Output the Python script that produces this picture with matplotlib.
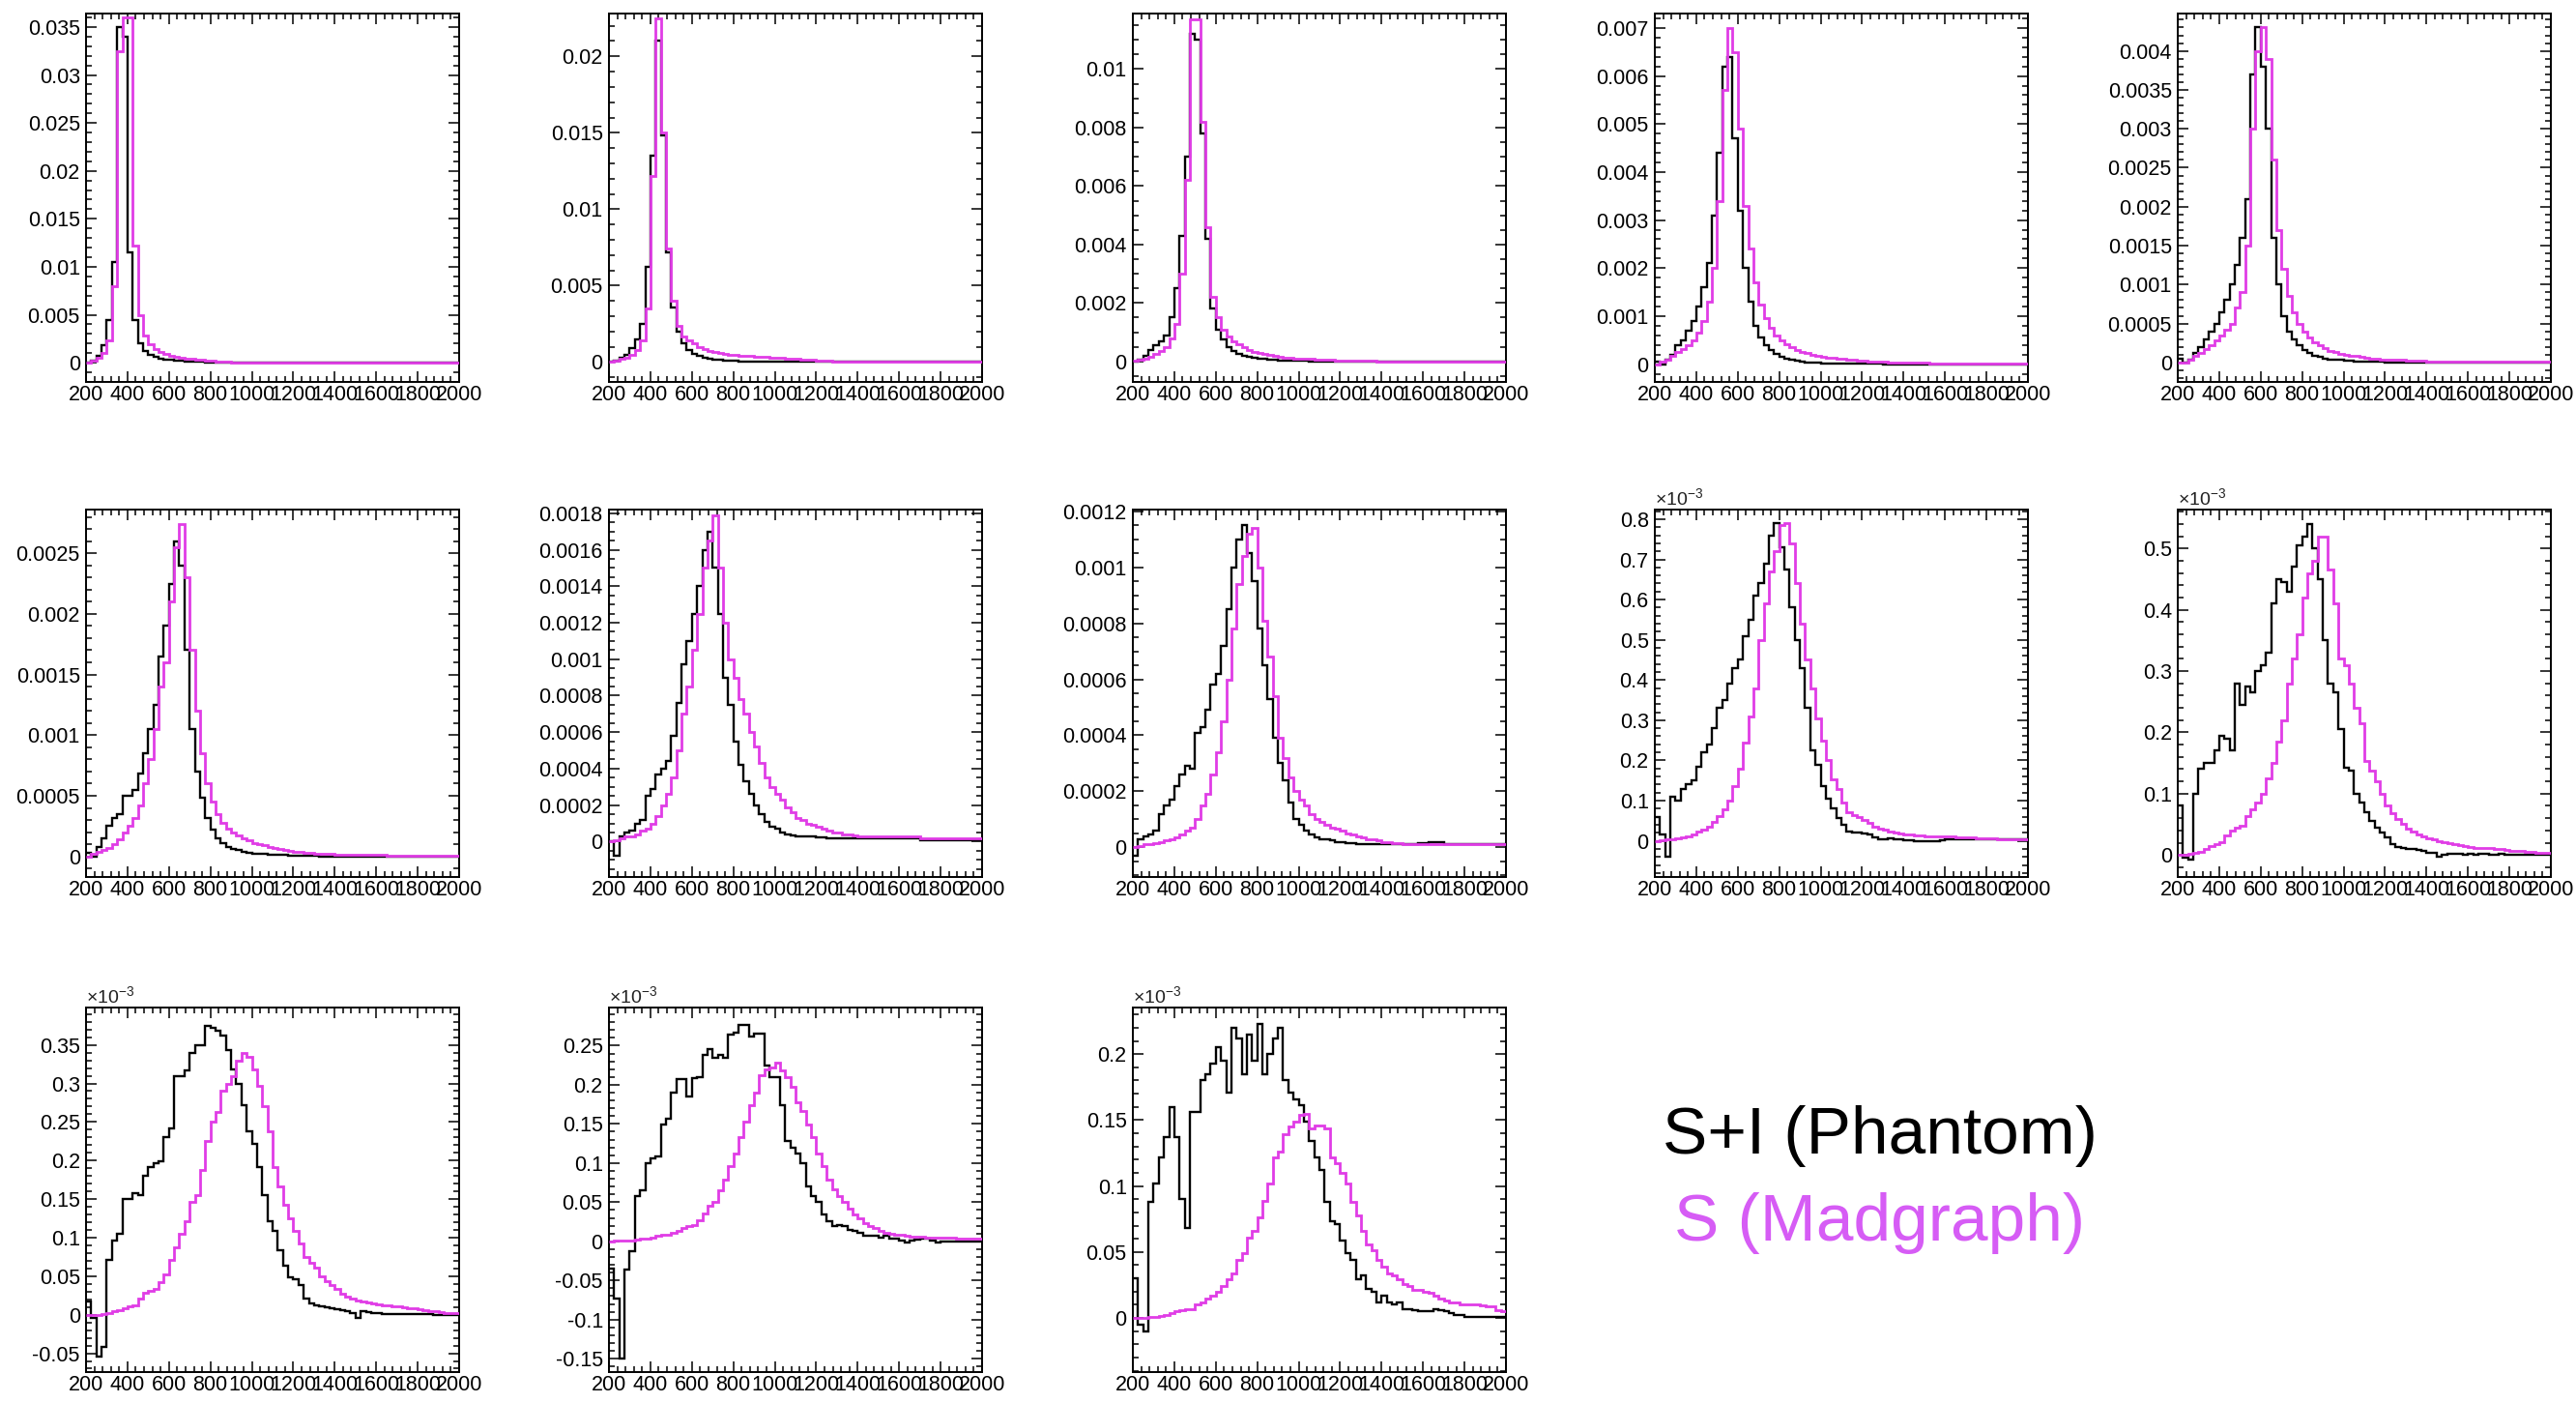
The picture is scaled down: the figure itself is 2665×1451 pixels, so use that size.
import numpy as np
import matplotlib
matplotlib.use("Agg")
import matplotlib.pyplot as plt
from matplotlib.ticker import MultipleLocator, AutoMinorLocator, FuncFormatter

plt.rcParams['font.family'] = ['Liberation Sans', 'DejaVu Sans']
plt.rcParams['mathtext.fontset'] = 'custom'
plt.rcParams['mathtext.rm'] = 'Liberation Sans'
plt.rcParams['mathtext.it'] = 'Liberation Sans:italic'

# ---------------- data: bin edges (GeV) and bin contents ----------------
bin_edges = list(range(200, 2001, 25))          # 72 bins of 25
x_tick_values = [200, 400, 600, 800, 1000, 1200, 1400, 1600, 1800, 2000]

series_labels = ["S+I (Phantom)", "S (Madgraph)"]

# panels 1-8: values in units of 1e-4
p1_si = [0.5, 2, 7, 18, 45, 105, 350, 340, 115, 45, 20, 12,
         8, 6, 4.5, 3.5, 2.8, 2.2, 1.8, 1.4, 1.1, 0.9, 0.7, 0.5,
         0.4, 0.3, 0.2, 0.2, 0.1, 0.1, 0, 0, 0, 0, 0, 0,
         0, 0, 0, 0, 0, 0, 0, 0, 0, 0, 0, 0,
         0, 0, 0, 0, 0, 0, 0, 0, 0, 0, 0, 0,
         0, 0, 0, 0, 0, 0, 0, 0, 0, 0, 0, 0]
p1_s = [0.5, 2, 5, 10, 23, 80, 325, 360, 360, 122, 50, 28,
        19, 14, 11, 9, 7, 6, 5, 4.3, 3.7, 3.2, 2.7, 2.3,
        1.9, 1.5, 1.1, 0.8, 0.5, 0.3, 0.2, 0.1, 0, 0, 0, 0,
        0, 0, 0, 0, 0, 0, 0, 0, 0, 0, 0, 0,
        0, 0, 0, 0, 0, 0, 0, 0, 0, 0, 0, 0,
        0, 0, 0, 0, 0, 0, 0, 0, 0, 0, 0, 0]

p2_si = [0, 1, 3, 5, 9, 15, 25, 62, 135, 210, 148, 72,
         36, 20, 12, 8, 5.5, 4, 3, 2.3, 1.8, 1.4, 1.1, 0.9,
         0.7, 0.5, 0.4, 0.3, 0.2, 0.15, 0.1, 0.1, 0, 0, 0, 0,
         0, 0, 0, 0, 0, 0, 0, 0, 0, 0, 0, 0,
         0, 0, 0, 0, 0, 0, 0, 0, 0, 0, 0, 0,
         0, 0, 0, 0, 0, 0, 0, 0, 0, 0, 0, 0]
p2_s = [0.5, 1, 2, 3, 5, 8, 14, 35, 122, 225, 150, 74,
        40, 24, 17, 14, 12, 10, 8.5, 7.5, 6.5, 6, 5.5, 5,
        4.6, 4.3, 4, 3.8, 3.6, 3.4, 3.2, 3, 2.8, 2.6, 2.4, 2.2,
        2, 1.8, 1.6, 1.4, 1.2, 1, 0.8, 0.5, 0.3, 0.2, 0.1, 0,
        0, 0, 0, 0, 0, 0, 0, 0, 0, 0, 0, 0,
        0, 0, 0, 0, 0, 0, 0, 0, 0, 0, 0, 0]

p3_si = [0, 0.5, 2, 4, 5.5, 7, 9, 15, 25, 43, 70, 112,
         110, 78, 42, 18, 11, 7.5, 5, 3.5, 2.5, 2, 1.5, 1.2,
         1, 0.8, 0.6, 0.5, 0.4, 0.3, 0.3, 0.2, 0.2, 0.2, 0.1, 0.1,
         0, 0, 0, 0, 0, 0, 0, 0, 0, 0, 0, 0,
         0, 0, 0, 0, 0, 0, 0, 0, 0, 0, 0, 0,
         0, 0, 0, 0, 0, 0, 0, 0, 0, 0, 0, 0]
p3_s = [0.2, 0.5, 1, 1.5, 2.5, 3.5, 5, 8, 13, 30, 62, 117,
        117, 82, 46, 22, 15, 11, 8.5, 7, 5.8, 4.8, 4, 3.4,
        2.9, 2.5, 2.1, 1.8, 1.6, 1.4, 1.2, 1.1, 1, 0.9, 0.8, 0.7,
        0.6, 0.5, 0.5, 0.4, 0.4, 0.3, 0.3, 0.3, 0.2, 0.2, 0.2, 0.1,
        0.1, 0.1, 0.1, 0.1, 0.1, 0, 0, 0, 0, 0, 0, 0,
        0, 0, 0, 0, 0, 0, 0, 0, 0, 0, 0, 0]

p4_si = [0.5, 0, 1, 2, 4, 5, 7, 9, 12, 16, 21, 31,
         44, 62, 64, 47, 32, 20, 13, 8, 5.5, 4, 3, 2.2,
         1.6, 1.2, 0.9, 0.7, 0.5, 0.4, 0.3, 0.3, 0.2, 0.2, 0.2, 0.1,
         0.1, 0.1, 0.1, 0.1, 0.1, 0.1, 0.1, 0.1, 0, 0, 0, 0,
         0, 0, 0, 0, 0, 0, 0, 0, 0, 0, 0, 0,
         0, 0, 0, 0, 0, 0, 0, 0, 0, 0, 0, 0]
p4_s = [0, 0.5, 1, 1.8, 2.5, 3.2, 4, 5, 6.5, 9, 13, 20,
        34, 57, 70, 65, 49, 33, 24, 17, 12.5, 9.5, 7.5, 6,
        5, 4.2, 3.5, 3, 2.6, 2.3, 2, 1.8, 1.6, 1.4, 1.3, 1.2,
        1.1, 1, 0.9, 0.8, 0.7, 0.6, 0.6, 0.5, 0.5, 0.4, 0.4, 0.4,
        0.3, 0.3, 0.3, 0.3, 0.3, 0.2, 0.2, 0.2, 0.2, 0.2, 0.2, 0.2,
        0.2, 0.2, 0.2, 0.2, 0.2, 0.1, 0.1, 0.1, 0.1, 0.1, 0.1, 0.1]

p5_si = [0.5, 0, 0.3, 1.2, 2, 3, 4, 5, 6.5, 8, 10, 12.5,
         16, 21, 37, 43, 38, 30, 16, 10, 6, 4, 3, 2.2,
         1.6, 1.2, 0.9, 0.7, 0.5, 0.4, 0.3, 0.3, 0.2, 0.2, 0.1, 0.1,
         0.1, 0.1, 0.1, 0.1, 0, 0, 0, 0, 0, 0, 0, 0,
         0, 0, 0, 0, 0, 0, 0, 0, 0, 0, 0, 0,
         0, 0, 0, 0, 0, 0, 0, 0, 0, 0, 0, 0]
p5_s = [0, 0, 0.3, 0.8, 1.2, 1.7, 2.2, 2.8, 3.5, 4.2, 5, 7,
        9, 15, 30, 40, 43, 39, 26, 17, 12, 8.5, 6.5, 5,
        4, 3.2, 2.6, 2.2, 1.8, 1.5, 1.3, 1.1, 1, 0.9, 0.8, 0.7,
        0.6, 0.5, 0.5, 0.4, 0.4, 0.3, 0.3, 0.3, 0.2, 0.2, 0.2, 0.2,
        0.1, 0.1, 0.1, 0.1, 0.1, 0.1, 0.1, 0.1, 0.1, 0.1, 0.1, 0.1,
        0.1, 0.1, 0.1, 0.1, 0.1, 0.1, 0.1, 0.1, 0.1, 0.1, 0.1, 0.1]

p6_si = [0.3, 0, 0.8, 1.5, 2.5, 3.2, 3.5, 5, 5, 5.5, 6.8, 8.5,
         10.5, 12.5, 16.5, 19, 22.5, 26, 24, 17, 10.5, 7, 4.8, 3.2,
         2.2, 1.5, 1.1, 0.8, 0.6, 0.5, 0.4, 0.3, 0.25, 0.2, 0.2, 0.15,
         0.1, 0.1, 0.1, 0.05, 0.05, 0.05, 0.05, 0.05, 0.05, 0, 0, 0,
         0, 0, 0, 0, 0, 0, 0, 0, 0, 0, 0, 0,
         0, 0, 0, 0, 0, 0, 0, 0, 0, 0, 0, 0]
p6_s = [0, 0.2, 0.4, 0.5, 0.7, 1.0, 1.4, 2, 2.5, 3.2, 4.2, 6,
        8, 10.5, 14, 16, 21, 25.5, 27.4, 23, 17, 12, 8.5, 6,
        4.5, 3.5, 2.8, 2.3, 2, 1.7, 1.5, 1.3, 1.1, 1, 0.9, 0.8,
        0.7, 0.6, 0.5, 0.45, 0.4, 0.35, 0.3, 0.3, 0.25, 0.2, 0.2, 0.2,
        0.15, 0.15, 0.1, 0.1, 0.1, 0.1, 0.1, 0.1, 0.1, 0.1, 0.05, 0.05,
        0.05, 0.05, 0.05, 0.05, 0.05, 0.05, 0.05, 0.05, 0.05, 0.05, 0.05, 0.05]

p7_si = [0, -0.8, 0.3, 0.5, 0.6, 1, 1.2, 2.5, 2.9, 3.7, 4, 4.4,
         5.8, 7.6, 9.7, 11, 12.5, 14, 16, 17, 15, 12.5, 9, 7.5,
         5.5, 4.2, 3.3, 2.6, 2, 1.5, 1.1, 0.8, 0.7, 0.5, 0.4, 0.35,
         0.3, 0.3, 0.3, 0.3, 0.25, 0.25, 0.2, 0.2, 0.2, 0.2, 0.2, 0.2,
         0.2, 0.2, 0.2, 0.2, 0.2, 0.2, 0.2, 0.2, 0.2, 0.2, 0.2, 0.2,
         0.1, 0.1, 0.1, 0.1, 0.1, 0.1, 0.1, 0.1, 0.1, 0.1, 0.1, 0.1]
p7_s = [0, 0.1, 0.2, 0.3, 0.3, 0.4, 0.6, 0.7, 1, 1.4, 2, 2.6,
        3.5, 5, 7, 8.5, 10.5, 12.5, 15, 16.5, 17.9, 15, 12, 10,
        9, 7.8, 7, 6, 5.2, 4.3, 3.5, 3, 2.6, 2.3, 1.9, 1.6,
        1.3, 1.2, 1, 0.9, 0.8, 0.7, 0.6, 0.5, 0.5, 0.4, 0.4, 0.35,
        0.3, 0.3, 0.3, 0.3, 0.3, 0.3, 0.3, 0.3, 0.3, 0.3, 0.3, 0.3,
        0.2, 0.2, 0.2, 0.2, 0.2, 0.2, 0.2, 0.2, 0.2, 0.2, 0.2, 0.2]

p8_si = [-0.3, 0.3, 0.4, 0.45, 0.6, 1.2, 1.5, 1.7, 2.2, 2.6, 2.9, 2.8,
         4.1, 4.3, 4.9, 5.8, 6.2, 7.2, 8.5, 10, 11, 11.5, 10.5, 9.5,
         7.8, 6.5, 5.3, 3.9, 3, 2.4, 1.6, 1, 0.8, 0.6, 0.45, 0.35,
         0.3, 0.3, 0.25, 0.2, 0.2, 0.15, 0.15, 0.1, 0.1, 0.1, 0.1, 0.1,
         0.1, 0.1, 0.1, 0.1, 0.1, 0.1, 0.1, 0.15, 0.15, 0.2, 0.2, 0.2,
         0.1, 0.1, 0.1, 0.1, 0.1, 0.1, 0.1, 0.1, 0.1, 0.1, 0.1, 0.1]
p8_s = [0, 0.05, 0.1, 0.1, 0.15, 0.2, 0.25, 0.3, 0.35, 0.45, 0.6, 0.7,
        1, 1.5, 1.9, 2.6, 3.4, 4.5, 6, 7.8, 9.4, 10.4, 11.2, 11.4,
        10, 8.1, 6.8, 5.4, 3.9, 3.2, 2.5, 2, 1.7, 1.5, 1.2, 1,
        0.9, 0.8, 0.7, 0.65, 0.6, 0.5, 0.45, 0.4, 0.35, 0.3, 0.3, 0.25,
        0.2, 0.2, 0.15, 0.15, 0.1, 0.1, 0.1, 0.1, 0.1, 0.1, 0.1, 0.1,
        0.1, 0.1, 0.1, 0.1, 0.1, 0.1, 0.1, 0.1, 0.1, 0.1, 0.1, 0.1]

# panels 9-13: values in units of 1e-3 (as shown with the x10^-3 label)
p9_si = [0.06, 0.015, -0.04, 0.11, 0.10, 0.13, 0.14, 0.15, 0.185, 0.22, 0.24, 0.28,
         0.33, 0.35, 0.39, 0.43, 0.45, 0.51, 0.55, 0.61, 0.64, 0.69, 0.76, 0.79,
         0.73, 0.675, 0.58, 0.50, 0.43, 0.33, 0.225, 0.19, 0.137, 0.105, 0.08, 0.056,
         0.04, 0.024, 0.02, 0.02, 0.018, 0.016, 0.008, 0.005, 0.004, 0.006, 0.004, 0.003,
         0.002, 0.001, 0, 0, -0.002, 0, 0, 0.002, 0.003, 0.004, 0.004, 0.004,
         0.004, 0.004, 0.004, 0.004, 0.004, 0.003, 0.003, 0.003, 0.003, 0.003, 0.003, 0.003]
p9_s = [0, 0.002, 0.004, 0.005, 0.006, 0.008, 0.012, 0.016, 0.024, 0.028, 0.034, 0.046,
        0.062, 0.078, 0.10, 0.135, 0.18, 0.245, 0.31, 0.38, 0.50, 0.59, 0.67, 0.72,
        0.785, 0.79, 0.74, 0.64, 0.54, 0.45, 0.38, 0.305, 0.25, 0.20, 0.153, 0.129,
        0.096, 0.072, 0.064, 0.058, 0.052, 0.044, 0.036, 0.03, 0.027, 0.024, 0.021, 0.019,
        0.017, 0.015, 0.014, 0.013, 0.012, 0.012, 0.011, 0.011, 0.010, 0.010, 0.009, 0.009,
        0.008, 0.008, 0.007, 0.007, 0.006, 0.006, 0.005, 0.005, 0.004, 0.004, 0.003, 0.003]

p10_si = [0.08, -0.005, -0.008, 0.10, 0.14, 0.15, 0.15, 0.17, 0.195, 0.19, 0.17, 0.28,
          0.245, 0.275, 0.265, 0.30, 0.31, 0.33, 0.41, 0.45, 0.445, 0.43, 0.47, 0.505,
          0.52, 0.54, 0.50, 0.45, 0.35, 0.28, 0.265, 0.205, 0.143, 0.138, 0.10, 0.085,
          0.069, 0.056, 0.045, 0.037, 0.029, 0.018, 0.013, 0.011, 0.010, 0.009, 0.008, 0.006,
          0.004, 0.003, -0.003, 0.001, 0.002, 0.002, 0.002, 0.001, 0.002, 0.001, 0.002, 0.002,
          0.001, 0.001, 0.002, 0.001, 0.001, 0.001, 0.001, 0.001, 0.001, 0.001, 0.0, 0.0]
p10_s = [0, 0.001, 0.002, 0.004, 0.005, 0.01, 0.015, 0.018, 0.021, 0.032, 0.04, 0.045,
         0.048, 0.063, 0.074, 0.085, 0.10, 0.125, 0.15, 0.185, 0.22, 0.28, 0.32, 0.36,
         0.42, 0.46, 0.48, 0.52, 0.52, 0.465, 0.41, 0.32, 0.31, 0.28, 0.24, 0.215,
         0.153, 0.137, 0.12, 0.10, 0.08, 0.068, 0.058, 0.05, 0.043, 0.038, 0.034, 0.030,
         0.027, 0.025, 0.023, 0.021, 0.019, 0.017, 0.016, 0.015, 0.013, 0.012, 0.012, 0.011,
         0.011, 0.010, 0.009, 0.008, 0.007, 0.006, 0.006, 0.005, 0.005, 0.004, 0.004, 0.004]

p11_si = [0.017, -0.004, -0.054, -0.042, 0.071, 0.096, 0.105, 0.15, 0.15, 0.158, 0.155, 0.18,
          0.192, 0.196, 0.199, 0.23, 0.242, 0.31, 0.31, 0.317, 0.34, 0.349, 0.349, 0.375,
          0.372, 0.368, 0.362, 0.343, 0.318, 0.30, 0.272, 0.238, 0.222, 0.192, 0.155, 0.121,
          0.109, 0.084, 0.063, 0.048, 0.046, 0.038, 0.021, 0.015, 0.0125, 0.0105, 0.0095, 0.0084,
          0.007, 0.006, 0.004, 0.002, -0.004, 0.004, 0.003, 0.002, 0.002, 0.001, 0.001, 0.001,
          0.001, 0.001, 0.001, 0.001, 0.001, 0.001, 0.001, 0.0, 0.0, 0.0, 0.0, 0.0]
p11_s = [0, 0, 0, 0.001, 0.002, 0.004, 0.006, 0.0084, 0.0105, 0.0125, 0.021, 0.029,
         0.031, 0.033, 0.042, 0.052, 0.071, 0.088, 0.105, 0.121, 0.146, 0.155, 0.188, 0.226,
         0.25, 0.263, 0.29, 0.30, 0.31, 0.33, 0.34, 0.335, 0.318, 0.297, 0.27, 0.238,
         0.192, 0.167, 0.142, 0.125, 0.109, 0.092, 0.075, 0.067, 0.061, 0.05, 0.044, 0.038,
         0.033, 0.027, 0.023, 0.021, 0.019, 0.017, 0.016, 0.015, 0.014, 0.0125, 0.012, 0.011,
         0.0105, 0.0095, 0.0085, 0.0084, 0.007, 0.006, 0.005, 0.004, 0.003, 0.002, 0.002, 0.002]

p12_si = [-0.035, -0.073, -0.15, -0.036, -0.012, 0.058, 0.065, 0.1, 0.106, 0.108, 0.149, 0.157,
          0.19, 0.207, 0.207, 0.185, 0.209, 0.21, 0.238, 0.245, 0.235, 0.238, 0.235, 0.264,
          0.266, 0.277, 0.277, 0.262, 0.265, 0.265, 0.225, 0.21, 0.21, 0.174, 0.128, 0.12,
          0.112, 0.1, 0.07, 0.058, 0.05, 0.034, 0.026, 0.019, 0.021, 0.019, 0.015, 0.013,
          0.011, 0.007, 0.007, 0.007, 0.005, 0.007, 0.004, 0.003, 0.001, -0.001, 0.001, 0.002,
          0.003, 0.003, 0.001, -0.001, 0, 0, 0, 0, 0, 0, 0, 0]
p12_s = [0, 0.0005, 0.001, 0.001, 0.0015, 0.002, 0.003, 0.004, 0.005, 0.007, 0.009, 0.009,
         0.011, 0.013, 0.017, 0.019, 0.021, 0.027, 0.036, 0.046, 0.05, 0.065, 0.079, 0.096,
         0.112, 0.133, 0.153, 0.174, 0.19, 0.212, 0.22, 0.222, 0.228, 0.218, 0.21, 0.198,
         0.178, 0.166, 0.149, 0.133, 0.112, 0.096, 0.079, 0.067, 0.058, 0.05, 0.042, 0.034,
         0.03, 0.023, 0.019, 0.017, 0.013, 0.011, 0.01, 0.009, 0.008, 0.007, 0.0065, 0.006,
         0.0055, 0.005, 0.005, 0.005, 0.005, 0.0045, 0.0045, 0.004, 0.004, 0.004, 0.004, 0.004]

p13_si = [0.03, -0.005, -0.01, 0.088, 0.102, 0.122, 0.137, 0.16, 0.137, 0.09, 0.068, 0.156,
          0.156, 0.18, 0.185, 0.193, 0.205, 0.195, 0.171, 0.22, 0.212, 0.185, 0.215, 0.195,
          0.223, 0.185, 0.2, 0.212, 0.22, 0.18, 0.171, 0.166, 0.161, 0.149, 0.134, 0.122,
          0.112, 0.088, 0.073, 0.071, 0.059, 0.049, 0.044, 0.029, 0.032, 0.022, 0.02, 0.012,
          0.017, 0.012, 0.01, 0.012, 0.007, 0.007, 0.006, 0.005, 0.005, 0.005, 0.007, 0.006,
          0.005, 0.004, 0.0025, 0.002, 0.001, 0.001, 0.001, 0.001, 0.001, 0.001, 0.001, 0.001]
p13_s = [0, 0, 0, 0.001, 0.001, 0.0015, 0.0025, 0.004, 0.005, 0.006, 0.007, 0.007,
         0.01, 0.012, 0.015, 0.017, 0.02, 0.024, 0.029, 0.034, 0.044, 0.049, 0.061, 0.066,
         0.076, 0.089, 0.102, 0.122, 0.126, 0.139, 0.145, 0.149, 0.154, 0.155, 0.144, 0.146,
         0.146, 0.144, 0.122, 0.117, 0.11, 0.102, 0.088, 0.078, 0.066, 0.056, 0.051, 0.044,
         0.039, 0.034, 0.032, 0.029, 0.026, 0.024, 0.021, 0.021, 0.02, 0.019, 0.017, 0.015,
         0.013, 0.012, 0.012, 0.01, 0.01, 0.01, 0.01, 0.0095, 0.009, 0.0085, 0.006, 0.005]

# ---------------- per-panel axis settings ----------------
panels = [
    # (S+I, S, value unit, ylim, major y step, minor subdivisions, show x10^-3)
    (p1_si, p1_s, 1e-4, (-0.0020, 0.0364), 0.005, 5, False),
    (p2_si, p2_s, 1e-4, (-0.0013, 0.0228), 0.005, 5, False),
    (p3_si, p3_s, 1e-4, (-0.0007, 0.0119), 0.002, 4, False),
    (p4_si, p4_s, 1e-4, (-0.00037, 0.0073), 0.001, 5, False),
    (p5_si, p5_s, 1e-4, (-0.00025, 0.00448), 0.0005, 5, False),
    (p6_si, p6_s, 1e-4, (-0.00017, 0.00286), 0.0005, 5, False),
    (p7_si, p7_s, 1e-4, (-0.000194, 0.00182), 0.0002, 4, False),
    (p8_si, p8_s, 1e-4, (-0.000106, 0.001206), 0.0002, 4, False),
    (p9_si, p9_s, 1.0, (-0.09, 0.824), 0.1, 5, True),
    (p10_si, p10_s, 1.0, (-0.036, 0.5635), 0.1, 5, True),
    (p11_si, p11_s, 1.0, (-0.0744, 0.3985), 0.05, 5, True),
    (p12_si, p12_s, 1.0, (-0.167, 0.2987), 0.05, 5, True),
    (p13_si, p13_s, 1.0, (-0.041, 0.2353), 0.05, 5, True),
]

FW, FH = 2665, 1451
fig = plt.figure(figsize=(FW / 100, FH / 100), dpi=100)
fig.patch.set_facecolor('white')

col_left = [89, 630, 1172, 1712, 2253]
row_span = [(14, 395), (527, 907), (1042, 1419)]
AX_W = 386

MAG_LINE = '#e03ce6'
MAG_TEXT = '#d65cf5'

edges = np.array(bin_edges, dtype=float)


def yfmt(v, pos):
    if abs(v) < 1e-12:
        return '0'
    return '%g' % round(v, 10)


problems = []
for i, (si, s, unit, ylim, ystep, nminor, expo) in enumerate(panels):
    r, c = divmod(i, 5)
    top, bot = row_span[r]
    ax = fig.add_axes([col_left[c] / FW, 1 - bot / FH, AX_W / FW, (bot - top) / FH])
    for arr in (si, s):
        if len(arr) != len(edges) - 1:
            problems.append('p%d:%d' % (i + 1, len(arr)))
    n = len(edges) - 1
    v_si = np.array((list(si) + [0] * n)[:n], dtype=float) * unit
    v_s = np.array((list(s) + [0] * n)[:n], dtype=float) * unit
    ax.stairs(v_si, edges, color='black', linewidth=1.7, baseline=None, zorder=2)
    ax.stairs(v_s, edges, color=MAG_LINE, linewidth=2.0, baseline=None, zorder=3)

    ax.set_xlim(200, 2000)
    ax.set_ylim(*ylim)
    ax.set_xticks(x_tick_values)
    ax.xaxis.set_major_formatter(FuncFormatter(lambda v, p: '%d' % int(round(v))))
    ax.xaxis.set_minor_locator(AutoMinorLocator(5))
    ax.yaxis.set_major_locator(MultipleLocator(ystep))
    ax.yaxis.set_minor_locator(AutoMinorLocator(nminor))
    ax.yaxis.set_major_formatter(FuncFormatter(yfmt))
    ax.tick_params(which='both', direction='in', top=True, right=True,
                   width=1.1, colors='black', labelsize=15.5)
    ax.tick_params(which='major', length=8)
    ax.tick_params(which='minor', length=4)
    ax.tick_params(axis='y', pad=4.5)
    ax.tick_params(axis='x', pad=2.5)
    for sp in ax.spines.values():
        sp.set_linewidth(1.4)
    if expo:
        ax.text(0.0, 1.014, r'$\times$10$^{-3}$', transform=ax.transAxes,
                ha='left', va='baseline', fontsize=14, color='#222222')

fig.text(1945 / FW, 1 - 1193 / FH, series_labels[0], ha='center', va='baseline',
         fontsize=50, color='black')
fig.text(1945 / FW, 1 - 1283 / FH, series_labels[1], ha='center', va='baseline',
         fontsize=50, color=MAG_TEXT)

if problems:
    fig.text(0.99, 0.01, 'LEN ' + ' '.join(problems), ha='right', va='bottom', fontsize=10, color='red')

fig.savefig('out.png', dpi=100, facecolor='white')
